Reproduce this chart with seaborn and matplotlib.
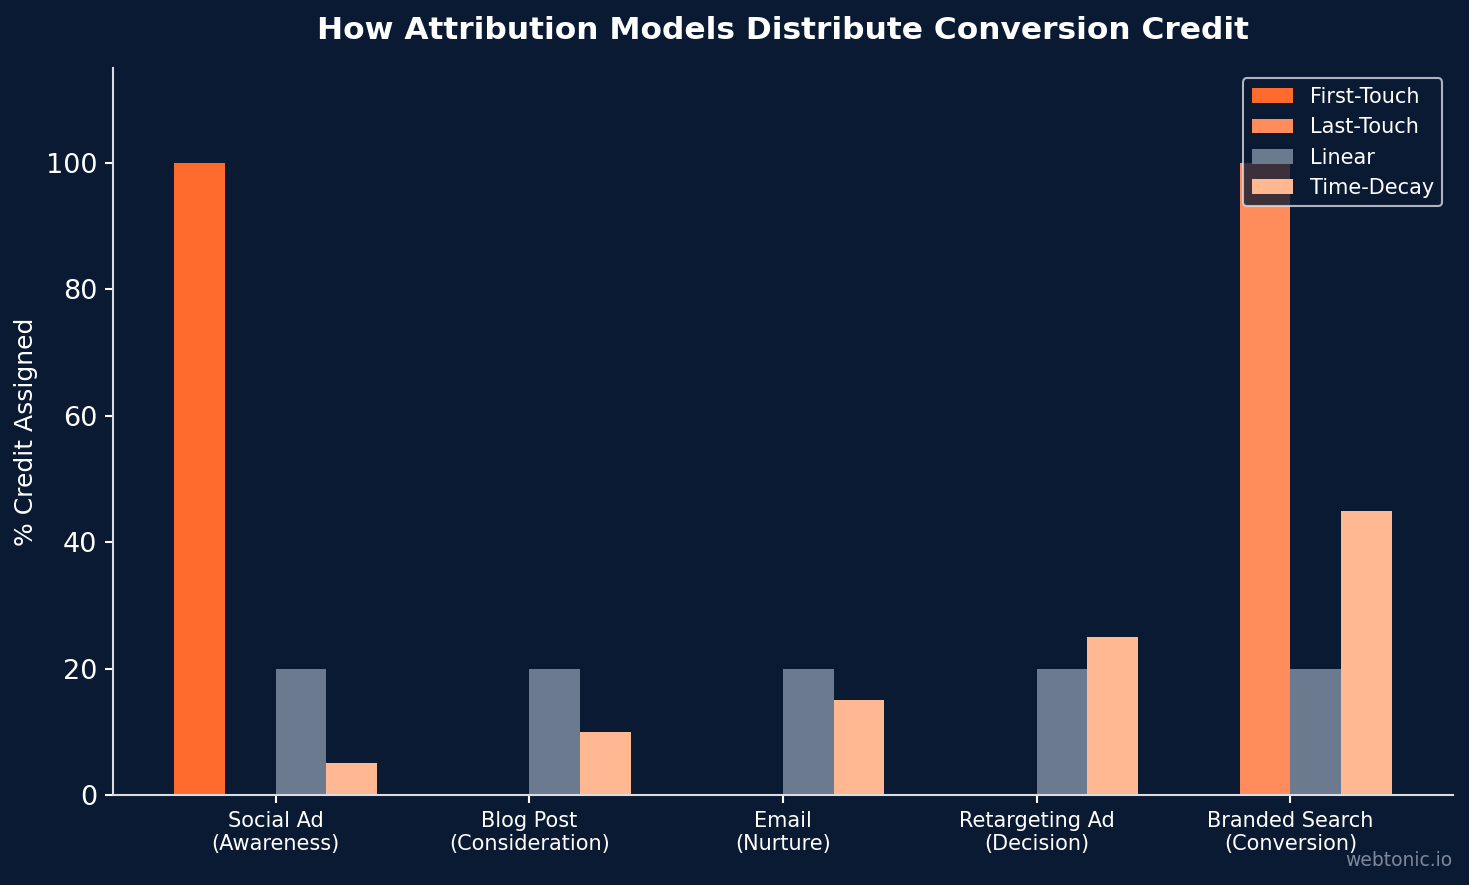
import pandas as pd
import numpy as np
import matplotlib
matplotlib.use('Agg')
import matplotlib.pyplot as plt
import seaborn as sns

# Touchpoints along the journey
touchpoints = ['Social Ad\n(Awareness)', 'Blog Post\n(Consideration)', 'Email\n(Nurture)',
               'Retargeting Ad\n(Decision)', 'Branded Search\n(Conversion)']
models = ['First-Touch', 'Last-Touch', 'Linear', 'Time-Decay']

# % credit per touchpoint for each model
first_touch = [100, 0, 0, 0, 0]
last_touch = [0, 0, 0, 0, 100]
linear = [20, 20, 20, 20, 20]
time_decay = [5, 10, 15, 25, 45]

colors = ['#ff6b2c', '#ff8c5a', '#6b7a8f', '#ffb891']
bg = '#0b1a33'

df = pd.DataFrame({'touchpoint': touchpoints * 4,
                   'model': np.repeat(models, len(touchpoints)),
                   'credit': first_touch + last_touch + linear + time_decay})

sns.set_style('dark')
plt.rcParams['font.family'] = ['DejaVu Sans']

fig = plt.figure(figsize=(1469 / 150, 885 / 150), dpi=150, facecolor=bg)
ax = fig.add_axes([0.077, 0.1017, 0.912, 0.8215])
ax.set_facecolor(bg)

sns.barplot(data=df, x='touchpoint', y='credit', hue='model', palette=colors,
            width=0.8, ax=ax, saturation=1, linewidth=0, edgecolor='none')

ax.set_xlim(-0.64, 4.64)
ax.set_ylim(0, 115)
ax.set_yticks([0, 20, 40, 60, 80, 100])
ax.set_xlabel('')
ax.set_ylabel('% Credit Assigned', color='white', fontsize=12)
ax.set_title('How Attribution Models Distribute Conversion Credit', color='white',
             fontsize=15, fontweight='bold', pad=14)

ax.tick_params(axis='y', colors='white', labelsize=13, length=4, width=1, left=True)
ax.tick_params(axis='x', colors='white', labelsize=10, length=4, width=1, bottom=True)
ax.grid(False)
for s in ['top', 'right']:
    ax.spines[s].set_visible(False)
for s in ['left', 'bottom']:
    ax.spines[s].set_visible(True)
    ax.spines[s].set_color('#d8dce3')
    ax.spines[s].set_linewidth(1)

leg = ax.legend(loc='upper right', fontsize=10, facecolor=bg, edgecolor='#d8dce3',
                labelcolor='white', framealpha=0.8)

fig.text(0.989, 0.028, 'webtonic.io', color='#7d8799', fontsize=9, ha='right', va='center')

plt.savefig('out.png', dpi=150, facecolor=bg)
